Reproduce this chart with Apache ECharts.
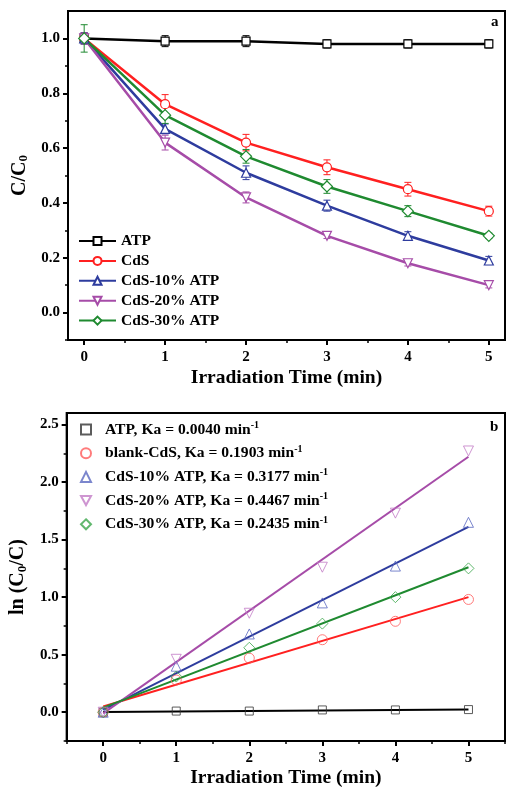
<!DOCTYPE html>
<html><head><meta charset="utf-8">
<script src="https://cdn.jsdelivr.net/npm/echarts@6/dist/echarts.min.js"></script>
<style>html,body{margin:0;padding:0;background:#fff}#c{width:507px;height:789px}</style>
</head><body><div id="c"></div><script>
// ---------- data ----------
const times = [0, 1, 2, 3, 4, 5];

// panel a : C/C0
const namesA = ['ATP', 'CdS', 'CdS-10% ATP', 'CdS-20% ATP', 'CdS-30% ATP'];
const atpA   = [1.00, 0.99, 0.99, 0.98, 0.98, 0.98];
const cdsA   = [1.00, 0.76, 0.62, 0.53, 0.45, 0.37];
const cds10A = [1.00, 0.67, 0.51, 0.39, 0.28, 0.19];
const cds20A = [1.00, 0.62, 0.42, 0.28, 0.18, 0.10];
const cds30A = [1.00, 0.72, 0.57, 0.46, 0.37, 0.28];
const atpErr   = [0.02, 0.02, 0.02, 0.015, 0.015, 0.015];
const cdsErr   = [0.01, 0.035, 0.03, 0.027, 0.025, 0.018];
const cds10Err = [0.02, 0.018, 0.025, 0.02, 0.015, 0.015];
const cds20Err = [0.02, 0.027, 0.02, 0.01, 0.01, 0.01];
const cds30Err = [0.05, 0.03, 0.025, 0.025, 0.02, 0.01];

// panel b : ln(C0/C)
const namesB = ['ATP, Ka = 0.0040 min', 'blank-CdS, Ka = 0.1903 min', 'CdS-10% ATP, Ka = 0.3177 min',
                'CdS-20% ATP, Ka = 0.4467 min', 'CdS-30% ATP, Ka = 0.2435 min'];
const lnAtp   = [0, 0.01, 0.01, 0.02, 0.02, 0.023];
const lnCds   = [0, 0.28, 0.47, 0.63, 0.79, 0.98];
const lnCds10 = [0, 0.40, 0.68, 0.95, 1.27, 1.65];
const lnCds20 = [0, 0.46, 0.86, 1.26, 1.73, 2.27];
const lnCds30 = [0, 0.31, 0.56, 0.77, 1.00, 1.25];
const fitX     = [0, 5];
const fitStart = [0.003, 0.05, 0.02, -0.01, 0.04];
const fitEnd   = [0.023, 1.00, 1.61, 2.22, 1.26];

// ticks
const xTicks      = [0, 1, 2, 3, 4, 5];
const xMinorA     = [0.5, 1.5, 2.5, 3.5, 4.5];
const xMinorB     = [-0.5, 0.5, 1.5, 2.5, 3.5, 4.5, 5.5];
const yTicksA     = [0.0, 0.2, 0.4, 0.6, 0.8, 1.0];
const yMinorA     = [-0.1, 0.1, 0.3, 0.5, 0.7, 0.9];
const yTicksB     = [0.0, 0.5, 1.0, 1.5, 2.0, 2.5];
const yMinorB     = [-0.25, 0.25, 0.75, 1.25, 1.75, 2.25];

// ---------- style ----------
const FONT = '"Liberation Serif", "Times New Roman", serif';
const colors = ['#000000', '#ff2020', '#2e3c9e', '#a64ca8', '#1f8a30'];
const lightColors = ['#333333', '#ff5a5a', '#5a68c0', '#c27ac6', '#3aa64a'];
const symbols = ['rect', 'circle', 'triangle', 'triangle', 'diamond'];
const rotations = [0, 0, 0, 180, 0];
const sizesA = [8, 9, 9, 9, 11];
const sizesB = [8, 10, 10, 10, 11];
const legendIconsB = ['rect', 'circle', 'triangle', 'path://M0,0 L10,0 L5,9 Z', 'diamond'];

const seriesA = [atpA, cdsA, cds10A, cds20A, cds30A];
const errsA = [atpErr, cdsErr, cds10Err, cds20Err, cds30Err];
const seriesB = [lnAtp, lnCds, lnCds10, lnCds20, lnCds30];

function labelStyle(fmt, margin) {
  return {fontFamily: FONT, fontWeight: 'bold', fontSize: 15, color: '#000', margin: margin, formatter: fmt};
}
function xAxes(gi, min, max, minors, nameGap) {
  return [{
    gridIndex: gi, type: 'value', min: min, max: max, position: 'bottom',
    axisLine: {show: true, onZero: false, lineStyle: {color: '#000', width: 2}},
    axisTick: {show: true, inside: false, length: 5, lineStyle: {color: '#000', width: 2}, customValues: xTicks},
    axisLabel: Object.assign({customValues: xTicks}, labelStyle(v => String(v), 10)),
    splitLine: {show: false},
    name: 'Irradiation Time (min)', nameLocation: 'middle', nameGap: nameGap,
    nameTextStyle: {fontFamily: FONT, fontWeight: 'bold', fontSize: 19.5, color: '#000'}
  }, {
    gridIndex: gi, type: 'value', min: min, max: max, position: 'bottom',
    axisLine: {show: false, onZero: false},
    axisTick: {show: true, inside: false, length: 3, lineStyle: {color: '#000', width: 1.5}, customValues: minors},
    axisLabel: {show: false}, splitLine: {show: false}
  }];
}
function yAxes(gi, min, max, majors, minors, name, nameGap) {
  return [{
    gridIndex: gi, type: 'value', min: min, max: max, position: 'left',
    axisLine: {show: true, onZero: false, lineStyle: {color: '#000', width: 2}},
    axisTick: {show: true, inside: false, length: 5, lineStyle: {color: '#000', width: 2}, customValues: majors},
    axisLabel: Object.assign({customValues: majors}, labelStyle(v => v.toFixed(1), 8)),
    splitLine: {show: false},
    name: name, nameLocation: 'middle', nameGap: nameGap, nameRotate: 90,
    nameTextStyle: {rich: {
      m: {fontFamily: FONT, fontWeight: 'bold', fontSize: 20, color: '#000', lineHeight: 22},
      s: {fontFamily: FONT, fontWeight: 'bold', fontSize: 13, color: '#000', lineHeight: 13, verticalAlign: 'bottom'}
    }}
  }, {
    gridIndex: gi, type: 'value', min: min, max: max, position: 'left',
    axisLine: {show: false, onZero: false},
    axisTick: {show: true, inside: false, length: 3, lineStyle: {color: '#000', width: 1.5}, customValues: minors},
    axisLabel: {show: false}, splitLine: {show: false}
  }];
}

function errRender(params, api) {
  const x = api.value(0);
  const p1 = api.coord([x, api.value(1)]);
  const p2 = api.coord([x, api.value(2)]);
  const w = 3.5;
  const style = {stroke: api.visual('color'), lineWidth: 1};
  return {type: 'group', children: [
    {type: 'line', shape: {x1: p1[0], y1: p1[1], x2: p2[0], y2: p2[1]}, style: style},
    {type: 'line', shape: {x1: p1[0] - w, y1: p1[1], x2: p1[0] + w, y2: p1[1]}, style: style},
    {type: 'line', shape: {x1: p2[0] - w, y1: p2[1], x2: p2[0] + w, y2: p2[1]}, style: style}
  ]};
}

const series = [];
// panel a
namesA.forEach((n, i) => {
  series.push({
    name: 'err' + i, type: 'custom', xAxisIndex: 0, yAxisIndex: 0, renderItem: errRender,
    itemStyle: {color: colors[i]}, z: 2, silent: true,
    data: times.map((t, j) => [t, seriesA[i][j] - errsA[i][j], seriesA[i][j] + errsA[i][j]])
  });
});
namesA.forEach((n, i) => {
  series.push({
    name: n, type: 'line', xAxisIndex: 0, yAxisIndex: 0,
    data: times.map((t, j) => [t, seriesA[i][j]]),
    symbol: symbols[i], symbolSize: sizesA[i], symbolRotate: rotations[i],
    lineStyle: {color: colors[i], width: 2.5},
    itemStyle: {color: '#fff', borderColor: colors[i], borderWidth: 1.2},
    z: 3
  });
});
// panel b
namesB.forEach((n, i) => {
  series.push({
    name: 'fit' + i, type: 'line', xAxisIndex: 2, yAxisIndex: 2,
    data: fitX.map((x, j) => [x, j === 0 ? fitStart[i] : fitEnd[i]]),
    symbol: 'none', lineStyle: {color: colors[i], width: 2}, z: 2, silent: true
  });
});
namesB.forEach((n, i) => {
  series.push({
    name: n, type: 'scatter', xAxisIndex: 2, yAxisIndex: 2,
    data: times.map((t, j) => [t, seriesB[i][j]]),
    symbol: symbols[i], symbolSize: sizesB[i], symbolRotate: rotations[i],
    itemStyle: {color: 'rgba(255,255,255,0)', borderColor: lightColors[i], borderWidth: 1},
    z: 3
  });
});

const option = {
  animation: false,
  backgroundColor: '#fff',
  grid: [
    {left: 68, top: 11, width: 437, height: 329, show: true, borderColor: '#000', borderWidth: 2},
    {left: 63, top: 413, width: 442, height: 330, show: true, borderColor: '#000', borderWidth: 2}
  ],
  xAxis: [].concat(xAxes(0, -0.2, 5.2, xMinorA, 28), xAxes(1, -0.5, 5.5, xMinorB, 27)),
  yAxis: [].concat(
    yAxes(0, -0.1, 1.1, yTicksA, yMinorA, '{m|C/C}{s|0}', 30),
    yAxes(1, -0.25, 2.6, yTicksB, yMinorB, '{m|ln (C}{s|0}{m|/C)}', 25)
  ),
  legend: [{
    data: namesA, orient: 'vertical', left: 78, top: 233, padding: 0,
    itemWidth: 37, itemHeight: 10, itemGap: 3.9,
    selectedMode: false,
    textStyle: {fontFamily: FONT, fontWeight: 'bold', fontSize: 15.5, color: '#000', lineHeight: 16}
  }, {
    data: namesB.map((n, i) => ({name: n, icon: legendIconsB[i]})),
    orient: 'vertical', left: 80, top: 420.5, padding: 0,
    itemWidth: 10, itemHeight: 10, itemGap: 6.7,
    selectedMode: false,
    formatter: n => '{n|' + n + '}{s|-1}',
    textStyle: {rich: {
      n: {fontFamily: FONT, fontWeight: 'bold', fontSize: 15.6, color: '#000', lineHeight: 18, padding: [0, 0, 0, 9]},
      s: {fontFamily: FONT, fontWeight: 'bold', fontSize: 10, color: '#000', lineHeight: 10, verticalAlign: 'top'}
    }}
  }],
  graphic: [
    {type: 'text', left: 491, top: 15, style: {text: 'a', fontFamily: FONT, fontWeight: 'bold', fontSize: 15, fill: '#000'}},
    {type: 'text', left: 490, top: 420, style: {text: 'b', fontFamily: FONT, fontWeight: 'bold', fontSize: 15, fill: '#000'}}
  ],
  series: series
};
echarts.init(document.getElementById('c'), null, {renderer: 'canvas'}).setOption(option);
</script></body></html>
